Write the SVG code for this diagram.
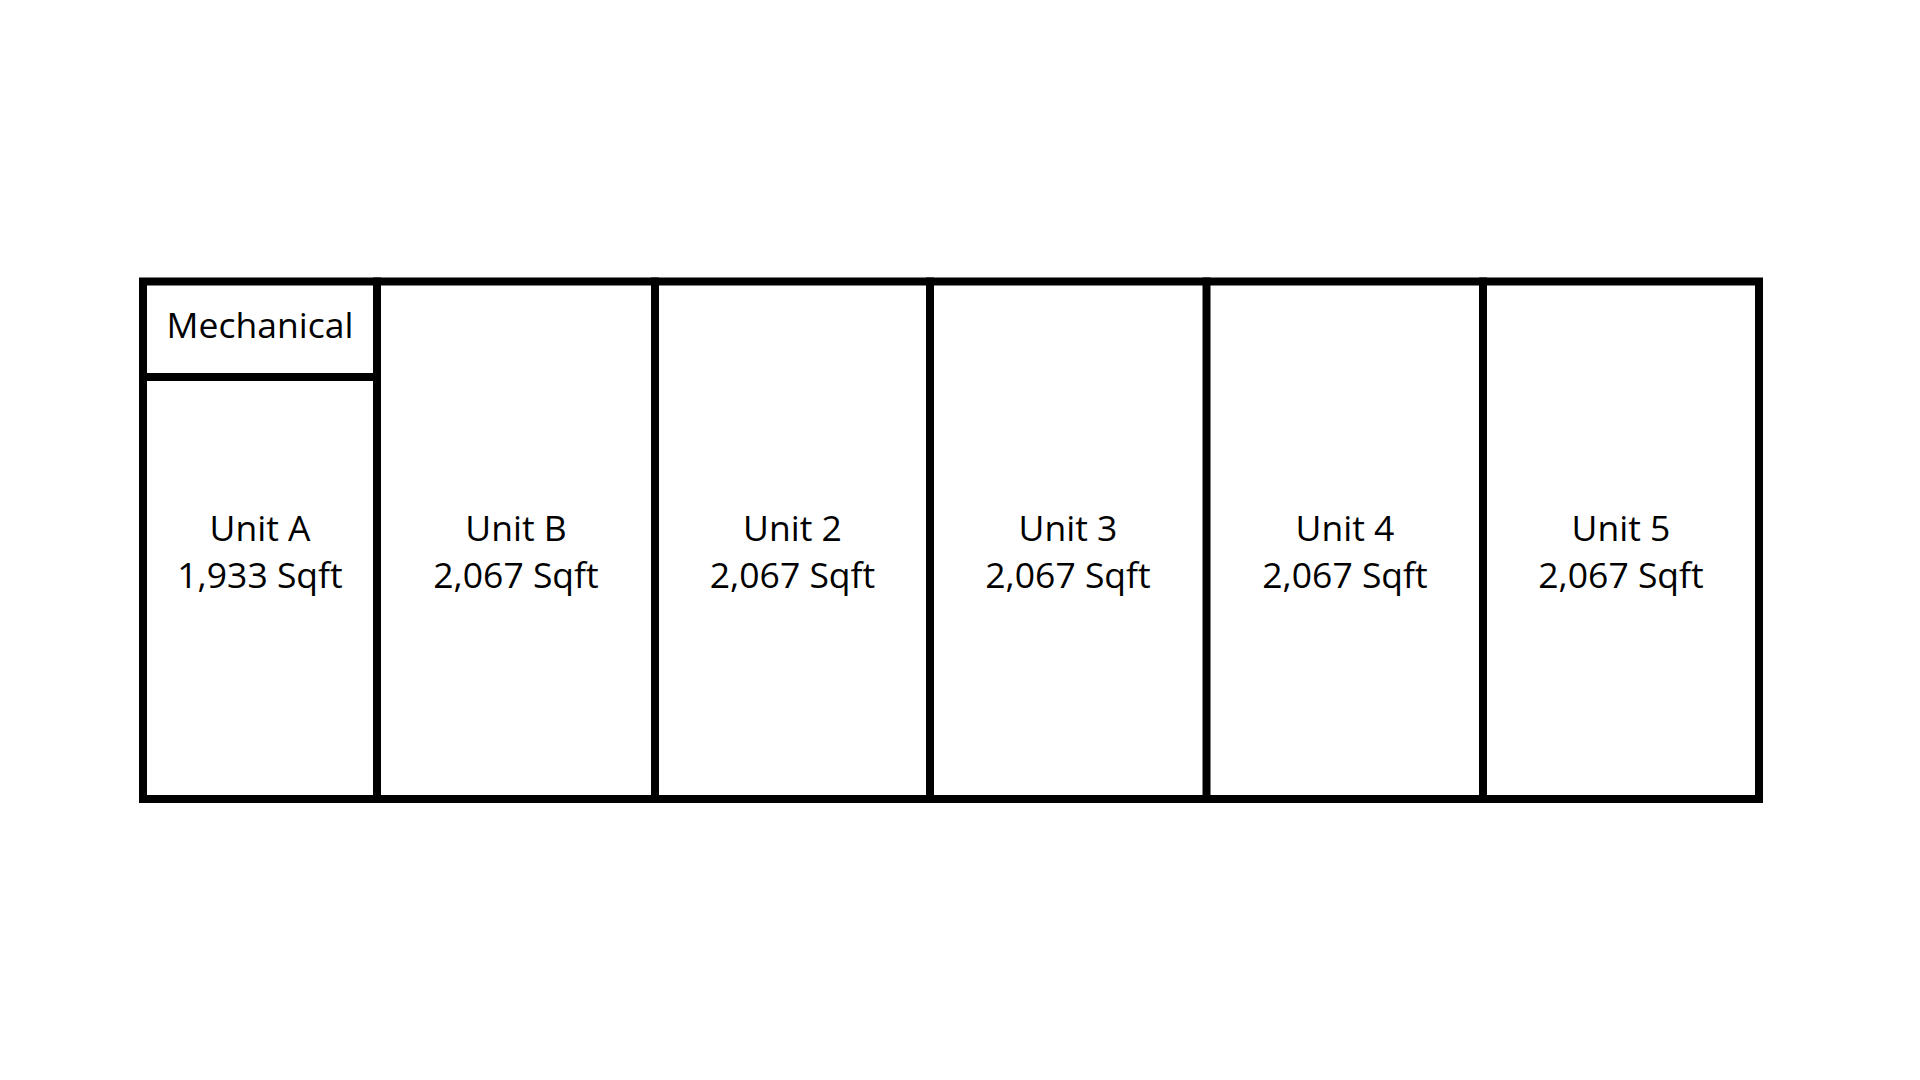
<svg xmlns="http://www.w3.org/2000/svg" width="1920" height="1080" viewBox="0 0 1920 1080">
<style>
.wall{fill:none;stroke:#000;stroke-width:8;stroke-linecap:square}
.lbl{font-family:"Open Sans","Noto Sans","Liberation Sans",sans-serif;font-size:35.5px;fill:#000;text-anchor:middle}
</style>
<rect width="1920" height="1080" fill="#fff"/>
<g id="building">
<rect class="wall" x="143" y="281.5" width="1616" height="517.5"/>
</g>
<g id="walls">
<line class="wall" x1="377" y1="281.5" x2="377" y2="799"/>
<line class="wall" x1="143" y1="377" x2="377" y2="377"/>
<line class="wall" x1="655" y1="281.5" x2="655" y2="799"/>
<line class="wall" x1="930" y1="281.5" x2="930" y2="799"/>
<line class="wall" x1="1206.5" y1="281.5" x2="1206.5" y2="799"/>
<line class="wall" x1="1483" y1="281.5" x2="1483" y2="799"/>
</g>
<g id="mechanical"><text class="lbl" x="260" y="338">Mechanical</text></g>
<g id="unit-a"><text class="lbl" x="260" y="541">Unit A</text><text class="lbl" x="260" y="588">1,933 Sqft</text></g>
<g id="unit-b"><text class="lbl" x="516" y="541">Unit B</text><text class="lbl" x="516" y="588">2,067 Sqft</text></g>
<g id="unit-2"><text class="lbl" x="792.5" y="541">Unit 2</text><text class="lbl" x="792.5" y="588">2,067 Sqft</text></g>
<g id="unit-3"><text class="lbl" x="1068" y="541">Unit 3</text><text class="lbl" x="1068" y="588">2,067 Sqft</text></g>
<g id="unit-4"><text class="lbl" x="1345" y="541">Unit 4</text><text class="lbl" x="1345" y="588">2,067 Sqft</text></g>
<g id="unit-5"><text class="lbl" x="1621" y="541">Unit 5</text><text class="lbl" x="1621" y="588">2,067 Sqft</text></g>
</svg>
